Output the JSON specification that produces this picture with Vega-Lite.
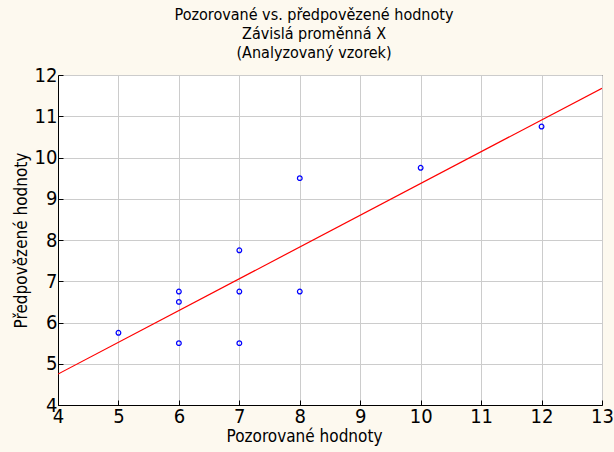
{
  "$schema": "https://vega.github.io/schema/vega-lite/v6.json",
  "width": 544,
  "height": 330,
  "autosize": {"type": "none"},
  "padding": {"left": 58, "top": 75, "right": 12, "bottom": 47},
  "background": "#fdf9ef",
  "title": {
    "text": ["Pozorované vs. předpovězené hodnoty", "Závislá proměnná X", "(Analyzovaný vzorek)"],
    "font": "'DejaVu Sans Condensed', 'Liberation Sans', Arial, sans-serif",
    "fontSize": 16,
    "fontWeight": "normal",
    "lineHeight": 19,
    "color": "#000000",
    "anchor": "middle",
    "frame": "group",
    "offset": 4,
    "dx": -16
  },
  "config": {
    "view": {"stroke": "#000000", "strokeWidth": 1, "fill": "#ffffff"},
    "axis": {
      "labelFont": "'DejaVu Sans Condensed', 'Liberation Sans', Arial, sans-serif",
      "titleFont": "'DejaVu Sans Condensed', 'Liberation Sans', Arial, sans-serif",
      "labelFontSize": 20,
      "titleFontSize": 17,
      "titleFontWeight": "normal",
      "labelColor": "#000000",
      "titleColor": "#000000",
      "domainColor": "#000000",
      "tickColor": "#000000",
      "gridColor": "#cccccc",
      "gridWidth": 1
    }
  },
  "datasets": {
    "points": [
      {"observed": 5, "predicted": 5.75},
      {"observed": 6, "predicted": 6.75},
      {"observed": 6, "predicted": 6.5},
      {"observed": 6, "predicted": 5.5},
      {"observed": 7, "predicted": 7.75},
      {"observed": 7, "predicted": 6.75},
      {"observed": 7, "predicted": 5.5},
      {"observed": 8, "predicted": 9.5},
      {"observed": 8, "predicted": 6.75},
      {"observed": 10, "predicted": 9.75},
      {"observed": 12, "predicted": 10.75}
    ],
    "fit": [
      {"observed": 4, "predicted": 4.75},
      {"observed": 13, "predicted": 11.68}
    ]
  },
  "layer": [
    {
      "data": {"name": "fit"},
      "mark": {"type": "line", "color": "#ff0000", "strokeWidth": 1.2, "clip": true},
      "encoding": {
        "x": {"field": "observed", "type": "quantitative"},
        "y": {"field": "predicted", "type": "quantitative"}
      }
    },
    {
      "data": {"name": "points"},
      "mark": {"type": "point", "shape": "circle", "filled": false, "color": "#0000ff", "size": 22, "strokeWidth": 1.2, "opacity": 1},
      "encoding": {
        "x": {
          "field": "observed",
          "type": "quantitative",
          "scale": {"domain": [4, 13], "nice": false, "zero": false},
          "axis": {
            "title": "Pozorované hodnoty",
            "values": [4, 5, 6, 7, 8, 9, 10, 11, 12, 13],
            "format": "d",
            "tickSize": -5,
            "labelPadding": 6,
            "titlePadding": 2,
            "titleX": 246,
            "labelFlush": false
          }
        },
        "y": {
          "field": "predicted",
          "type": "quantitative",
          "scale": {"domain": [4, 12], "nice": false, "zero": false},
          "axis": {
            "title": "Předpovězené hodnoty",
            "values": [4, 5, 6, 7, 8, 9, 10, 11, 12],
            "format": "d",
            "tickSize": -5,
            "labelPadding": 6,
            "titlePadding": 4,
            "labelFlush": false
          }
        }
      }
    }
  ]
}
